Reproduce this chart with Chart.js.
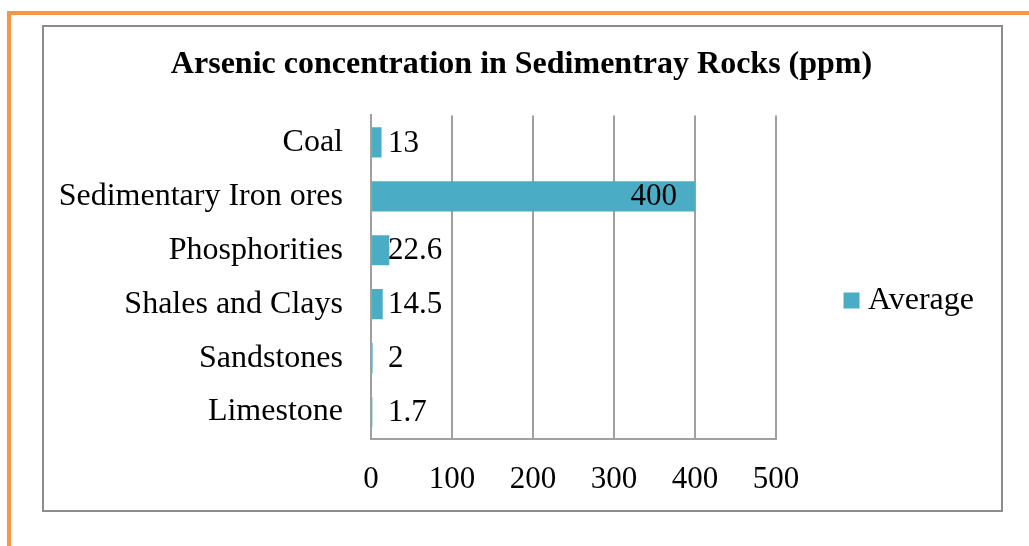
<!DOCTYPE html>
<html>
<head>
<meta charset="utf-8">
<script src="https://cdn.jsdelivr.net/npm/chart.js@4/dist/chart.umd.min.js"></script>
<style>
  body { margin: 0; background: #fff; }
  #page { position: relative; width: 1029px; height: 546px; overflow: hidden; }
  .orange-top { position: absolute; left: 7px; right: 0; top: 11px; height: 4px; background: #f79646; }
  .orange-left { position: absolute; left: 7px; top: 11px; bottom: 0; width: 4px; background: #f79646; }
  #box { position: absolute; left: 42px; top: 25px; width: 957px; height: 483px; border: 2px solid #8c8c8c; background: #fff; }
  canvas { display: block; }
</style>
</head>
<body>
<div id="page">
  <div class="orange-top"></div>
  <div class="orange-left"></div>
  <div id="box"><canvas id="arsenicChart" width="957" height="483"></canvas></div>
</div>
<script>
// ---- data ----
const rockTypes = ['Coal', 'Sedimentary Iron ores', 'Phosphorities', 'Shales and Clays', 'Sandstones', 'Limestone'];
const averageValues = [13, 400, 22.6, 14.5, 2, 1.7];
const seriesName = 'Average';
const chartTitle = 'Arsenic concentration in Sedimentray Rocks (ppm)';
const xTicks = [0, 100, 200, 300, 400, 500];

const serif = "'Times New Roman', 'Liberation Serif', serif";
const gridGray = '#a0a0a0';

// draws the value next to each bar (inside the end for the long one)
const barValueLabels = {
  id: 'barValueLabels',
  afterDatasetsDraw(chart) {
    const ctx = chart.ctx;
    const xScale = chart.scales.x;
    const zeroX = xScale.getPixelForValue(0);
    const maxVal = Math.max(...averageValues);
    chart.getDatasetMeta(0).data.forEach((bar, i) => {
      const v = averageValues[i];
      ctx.save();
      ctx.font = '31px ' + serif;
      ctx.fillStyle = '#000';
      ctx.textBaseline = 'middle';
      if (v === maxVal) {
        ctx.textAlign = 'right';
        ctx.fillText(String(v), bar.x - 18, bar.y + 1);
      } else {
        ctx.textAlign = 'left';
        ctx.fillText(String(v), zeroX + 17, bar.y + 1);
      }
      ctx.restore();
    });
  }
};

const ctx = document.getElementById('arsenicChart').getContext('2d');
new Chart(ctx, {
  type: 'bar',
  data: {
    labels: rockTypes,
    datasets: [{
      label: seriesName,
      data: averageValues,
      backgroundColor: '#4bacc6',
      borderWidth: 0,
      categoryPercentage: 0.56,
      barPercentage: 1
    }]
  },
  options: {
    indexAxis: 'y',
    responsive: false,
    animation: false,
    layout: { padding: { left: 15, right: 17, top: 0, bottom: 12 } },
    plugins: {
      title: {
        display: true,
        text: chartTitle,
        color: '#000',
        font: { family: serif, size: 32, weight: 'bold' },
        padding: { top: 19, bottom: 31 }
      },
      legend: {
        position: 'right',
        // empty legend title just pushes the entry down a bit
        title: { display: true, text: '', font: { size: 10 }, padding: { top: 32, bottom: 32 } },
        labels: {
          color: '#000',
          font: { family: serif, size: 32 },
          usePointStyle: true,
          pointStyle: 'rect',
          boxWidth: 1,
          boxHeight: 16,
          padding: 75
        }
      },
      tooltip: { enabled: false }
    },
    scales: {
      x: {
        min: 0,
        max: 500,
        afterBuildTicks(axis) { axis.ticks = xTicks.map(v => ({ value: v })); },
        afterFit(axis) { axis.height = 59; },
        grid: { color: gridGray, lineWidth: 2, drawTicks: false },
        border: { color: gridGray, width: 2 },
        ticks: { color: '#000', font: { family: serif, size: 31 }, padding: 22, minRotation: 0, maxRotation: 0 }
      },
      y: {
        afterFit(axis) { axis.width = 312; },
        grid: { color: 'rgba(0,0,0,0)', drawTicks: false },
        border: { color: gridGray, width: 2 },
        ticks: { color: '#000', font: { family: serif, size: 32 }, padding: 28 }
      }
    }
  },
  plugins: [barValueLabels]
});
</script>
</body>
</html>
